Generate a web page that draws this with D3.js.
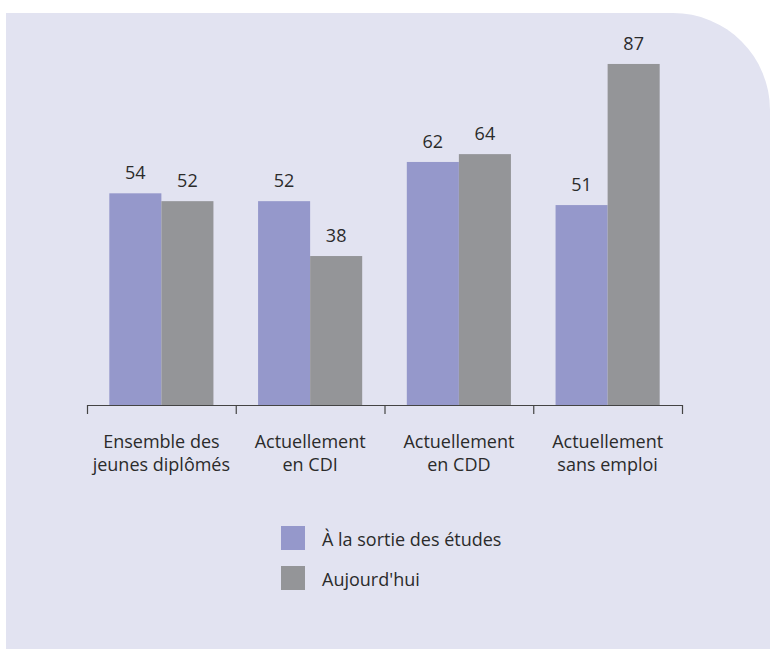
<!DOCTYPE html>
<html>
<head>
<meta charset="utf-8">
<script src="https://cdn.jsdelivr.net/npm/d3@7"></script>
<style>
  html, body { margin: 0; padding: 0; background: #fff; overflow: hidden; }
  #chart { width: 770px; height: 650px; }
  text { font-family: "Open Sans", sans-serif; fill: #2b2b2b; }
</style>
</head>
<body>
<div id="chart"></div>
<script>
//Colores fijos
const COLOR_BG = '#e2e3f1',
    COLOR_SORTIE = '#9598cb',
    COLOR_AUJ = '#949598',
    COLOR_AXIS = '#444';

//Datos
const categories = ['Ensemble des|jeunes diplômés', 'Actuellement|en CDI', 'Actuellement|en CDD', 'Actuellement|sans emploi'];
const series = ['À la sortie des études', "Aujourd'hui"];
const sortieValues = [54, 52, 62, 51];
const aujourdhuiValues = [52, 38, 64, 87];

let width = 770, height = 650;

let svg = d3.select('#chart')
    .append('svg')
        .attr('width', width)
        .attr('height', height);

//Fondo con esquina redondeada
svg.append('path')
    .attr('d', 'M6,13 H673 A97,97 0 0 1 770,110 V649 H6 Z')
    .attr('fill', COLOR_BG);

let left = 87, right = 682, base = 405;

let x0 = d3.scaleBand()
    .domain(categories)
    .range([left, right])
    .paddingInner(0.3)
    .paddingOuter(0.15);

let x1 = d3.scaleBand()
    .domain(series)
    .range([0, x0.bandwidth()]);

let y = d3.scaleLinear()
    .domain([0, 100])
    .range([base, 13]);

let color = d3.scaleOrdinal()
    .domain(series)
    .range([COLOR_SORTIE, COLOR_AUJ]);

let data = categories.map(function(c, i) {
    return { cat: c, values: [
        { key: series[0], value: sortieValues[i] },
        { key: series[1], value: aujourdhuiValues[i] }
    ]};
});

//Barras
let groups = svg.append('g')
    .selectAll('g')
    .data(data)
    .enter()
    .append('g')
    .attr('transform', function(d) { return 'translate(' + x0(d.cat) + ',0)'; });

groups.selectAll('rect')
    .data(function(d) { return d.values; })
    .enter()
    .append('rect')
    .attr('x', function(d) { return x1(d.key); })
    .attr('width', x1.bandwidth())
    .attr('y', function(d) { return y(d.value); })
    .attr('height', function(d) { return y(0) - y(d.value); })
    .attr('fill', function(d) { return color(d.key); });

groups.selectAll('text')
    .data(function(d) { return d.values; })
    .enter()
    .append('text')
    .attr('x', function(d) { return x1(d.key) + x1.bandwidth() / 2; })
    .attr('y', function(d) { return y(d.value) - 14; })
    .attr('text-anchor', 'middle')
    .style('font-size', '18px')
    .text(function(d) { return d.value; });

//Eje con marcas entre categorías
let xb = d3.scaleLinear()
    .domain([0, categories.length])
    .range([left, right]);

let axis = svg.append('g')
    .attr('transform', 'translate(0,' + base + ')')
    .call(d3.axisBottom(xb)
        .tickValues(d3.range(categories.length + 1))
        .tickSize(9)
        .tickSizeOuter(0)
        .tickFormat(''));

axis.select('.domain').attr('stroke', COLOR_AXIS).attr('stroke-width', 1.2);
axis.selectAll('.tick line').attr('stroke', COLOR_AXIS).attr('stroke-width', 1.2);

//Etiquetas de categorías
svg.append('g')
    .selectAll('text')
    .data(categories)
    .enter()
    .append('text')
    .attr('x', function(d) { return x0(d) + x0.bandwidth() / 2; })
    .attr('y', 448)
    .attr('text-anchor', 'middle')
    .style('font-size', '18px')
    .each(function(d) {
        let lines = d.split('|');
        d3.select(this).selectAll('tspan')
            .data(lines)
            .enter()
            .append('tspan')
            .attr('x', x0(d) + x0.bandwidth() / 2)
            .attr('dy', function(l, i) { return i === 0 ? 0 : 23; })
            .text(function(l) { return l; });
    });

//Leyenda
let legend = svg.append('g')
    .selectAll('g')
    .data(series)
    .enter()
    .append('g')
    .attr('transform', function(d, i) { return 'translate(281,' + (526 + i * 40) + ')'; });

legend.append('rect')
    .attr('width', 24)
    .attr('height', 24)
    .attr('fill', function(d) { return color(d); });

legend.append('text')
    .attr('x', 41)
    .attr('y', 20)
    .style('font-size', '18px')
    .text(function(d) { return d; });
</script>
</body>
</html>
